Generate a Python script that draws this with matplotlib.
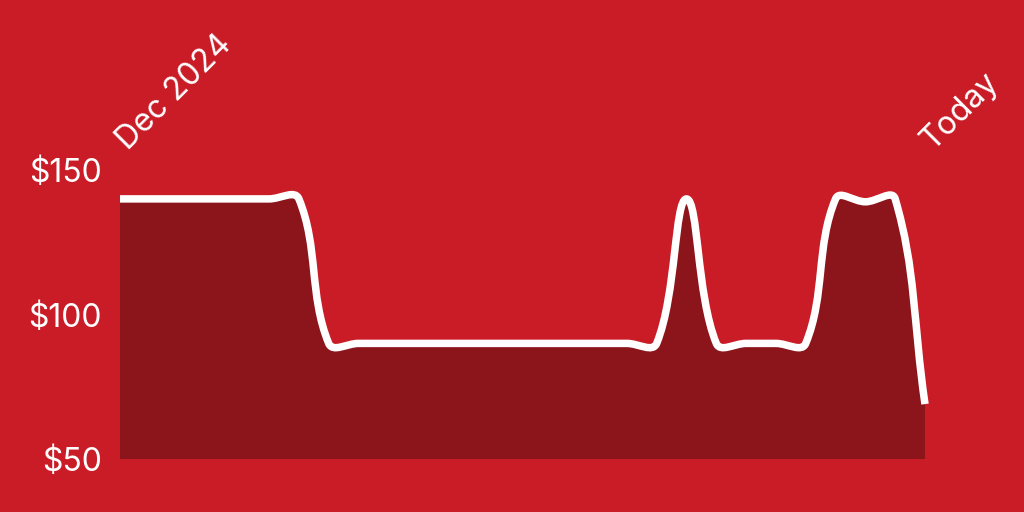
import matplotlib
matplotlib.use("Agg")
import matplotlib.pyplot as plt
from matplotlib.path import Path
from matplotlib.patches import PathPatch
import numpy as np

# weekly price points, Dec 2024 -> today
prices = [140, 140, 140, 140, 140, 140, 140,
          90, 90, 90, 90, 90, 90, 90, 90, 90, 90, 90, 90,
          140, 90, 90, 90, 90, 140, 139, 140, 69]
x_labels = ["Dec 2024", "Today"]
y_ticks = [50, 100, 150]
y_labels = ["$50", "$100", "$150"]

BG = "#C91C27"
FILL = "#8B151B"
TENSION = 0.4
FONT = ["Inter", "DejaVu Sans"]

W, H = 1024, 512
left, right, bottom, top = 120, 925, 459, 170

fig = plt.figure(figsize=(W / 100, H / 100), dpi=100, facecolor=BG)
ax = fig.add_axes([left / W, 1 - bottom / H, (right - left) / W, (bottom - top) / H])
ax.set_facecolor(BG)
n = len(prices)
ax.set_xlim(0, n - 1)
ax.set_ylim(50, 150)

# chart.js style bezier smoothing, computed in pixel space
xs = np.arange(n, dtype=float)
ys = np.array(prices, dtype=float)
sx = (right - left) / (n - 1)
sy = (bottom - top) / 100.0
px, py = xs * sx, ys * sy
prev_c, next_c = [], []
for i in range(n):
    p0 = i - 1 if i > 0 else i
    p2 = i + 1 if i < n - 1 else i
    d01 = np.hypot(px[i] - px[p0], py[i] - py[p0])
    d12 = np.hypot(px[p2] - px[i], py[p2] - py[i])
    tot = d01 + d12
    s01 = d01 / tot if tot else 0
    s12 = d12 / tot if tot else 0
    fa, fb = TENSION * s01, TENSION * s12
    dx, dy = px[p2] - px[p0], py[p2] - py[p0]
    prev_c.append(((px[i] - fa * dx) / sx, (py[i] - fa * dy) / sy))
    next_c.append(((px[i] + fb * dx) / sx, (py[i] + fb * dy) / sy))

verts = [(xs[0], ys[0])]
codes = [Path.MOVETO]
for i in range(1, n):
    verts += [next_c[i - 1], prev_c[i], (xs[i], ys[i])]
    codes += [Path.CURVE4] * 3

fill_verts = verts + [(xs[-1], 50), (xs[0], 50), (xs[0], ys[0])]
fill_codes = codes + [Path.LINETO, Path.LINETO, Path.CLOSEPOLY]
ax.add_patch(PathPatch(Path(fill_verts, fill_codes), facecolor=FILL, edgecolor="none"))
ax.add_patch(PathPatch(Path(verts, codes), facecolor="none", edgecolor="white",
                       lw=5.4, capstyle="butt", joinstyle="round", clip_on=False))

for sp in ax.spines.values():
    sp.set_visible(False)
ax.set_xticks([])
ax.set_yticks(y_ticks)
ax.set_yticklabels(y_labels)
ax.tick_params(axis="y", length=0, pad=13, labelsize=23, labelcolor="white")
for lab in ax.get_yticklabels():
    lab.set_fontfamily(FONT)

for xi, lab in zip([0, n - 1], x_labels):
    ax.annotate(lab, xy=(xi, 150), xytext=(8, 19), textcoords="offset pixels",
                rotation=45, rotation_mode="anchor", ha="left", va="baseline",
                color="white", fontsize=23, fontfamily=FONT,
                annotation_clip=False)

fig.savefig("out.png", dpi=100, facecolor=BG)
